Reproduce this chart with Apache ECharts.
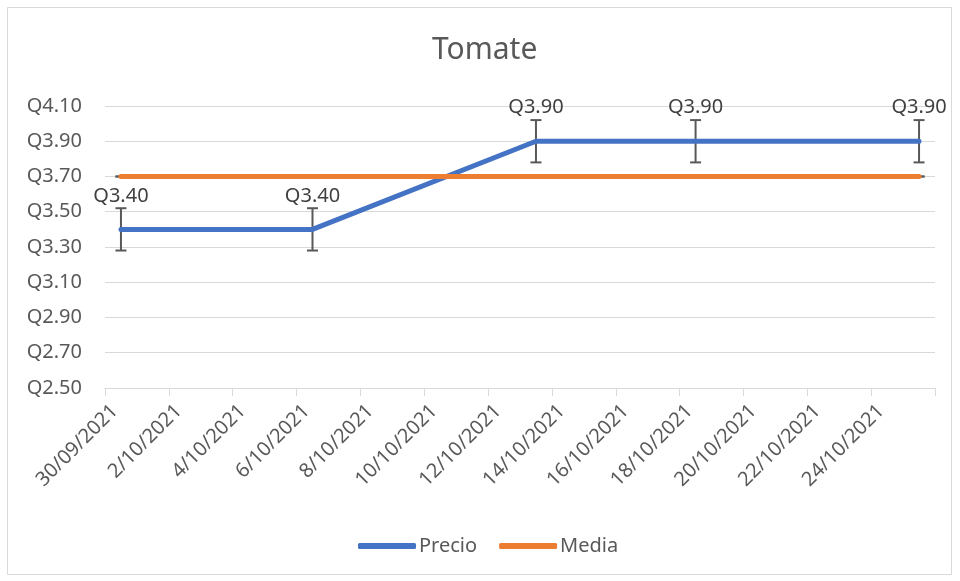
<!DOCTYPE html>
<html>
<head>
<meta charset="utf-8">
<title>Tomate</title>
<script src="https://cdn.jsdelivr.net/npm/echarts@6/dist/echarts.min.js"></script>
<style>
  html, body { margin: 0; padding: 0; background: #ffffff; }
  #chart { width: 960px; height: 581px; }
</style>
</head>
<body>
<div id="chart"></div>
<script>
// Every day shown on the date axis (one category per day)
const days = [
  '30/09/2021', '1/10/2021', '2/10/2021', '3/10/2021', '4/10/2021', '5/10/2021',
  '6/10/2021', '7/10/2021', '8/10/2021', '9/10/2021', '10/10/2021', '11/10/2021',
  '12/10/2021', '13/10/2021', '14/10/2021', '15/10/2021', '16/10/2021', '17/10/2021',
  '18/10/2021', '19/10/2021', '20/10/2021', '21/10/2021', '22/10/2021', '23/10/2021',
  '24/10/2021', '25/10/2021'
];

// Labels under the major ticks (every two days)
const tickLabels = [
  '30/09/2021', '2/10/2021', '4/10/2021', '6/10/2021', '8/10/2021', '10/10/2021',
  '12/10/2021', '14/10/2021', '16/10/2021', '18/10/2021', '20/10/2021', '22/10/2021',
  '24/10/2021'
];

// Observed prices
const precioDates = ['30/09/2021', '6/10/2021', '13/10/2021', '18/10/2021', '25/10/2021'];
const precioValues = [3.40, 3.40, 3.90, 3.90, 3.90];

// Average price line
const mediaDates = ['30/09/2021', '6/10/2021', '13/10/2021', '18/10/2021', '25/10/2021'];
const mediaValues = [3.70, 3.70, 3.70, 3.70, 3.70];

// Error bar half-widths (standard error)
const precioError = 0.12;
const mediaError = 0;

const FONT = '"Noto Sans", "Open Sans", sans-serif';
const BLUE = '#4472C4';
const ORANGE = '#ED7D31';
const GRID = '#d9d9d9';

const pairs = (xs, ys) => xs.map((d, i) => [d, ys[i]]);
const errPairs = (xs, ys, e) => xs.map((d, i) => [d, ys[i], e]);

function renderErrorBar(params, api) {
  const x = api.value(0);
  const y = api.value(1);
  const e = api.value(2);
  const top = api.coord([x, y + e]);
  const bottom = api.coord([x, y - e]);
  const half = 5.5;
  const style = { stroke: '#595959', lineWidth: 2, fill: null };
  return {
    type: 'group',
    children: [
      { type: 'line', shape: { x1: top[0], y1: top[1], x2: bottom[0], y2: bottom[1] }, style },
      { type: 'line', shape: { x1: top[0] - half, y1: top[1], x2: top[0] + half, y2: top[1] }, style },
      { type: 'line', shape: { x1: bottom[0] - half, y1: bottom[1], x2: bottom[0] + half, y2: bottom[1] }, style }
    ]
  };
}

const chart = echarts.init(document.getElementById('chart'), null, { renderer: 'canvas' });

chart.setOption({
  animation: false,
  backgroundColor: '#ffffff',
  textStyle: { fontFamily: FONT },
  graphic: [{
    type: 'rect',
    shape: { x: 7.5, y: 7.5, width: 944, height: 567 },
    style: { fill: null, stroke: GRID, lineWidth: 1 },
    silent: true,
    z: -10
  }],
  title: {
    text: 'Tomate',
    left: 427,
    top: 30,
    textStyle: { fontFamily: FONT, fontSize: 30, fontWeight: 'normal', color: '#595959' }
  },
  legend: {
    data: ['Precio', 'Media'],
    bottom: 20,
    left: 353,
    icon: 'roundRect',
    itemWidth: 58,
    itemHeight: 6,
    itemGap: 22,
    textStyle: { fontFamily: FONT, fontSize: 20, color: '#595959', padding: [0, 0, 0, -2] }
  },
  grid: { left: 105, right: 25, top: 106, bottom: 193, containLabel: false },
  xAxis: [
    {
      type: 'category',
      data: days,
      boundaryGap: true,
      axisLine: { show: false },
      axisTick: { show: false },
      axisLabel: { show: false },
      splitLine: { show: false }
    },
    {
      type: 'value',
      position: 'bottom',
      min: 0,
      max: days.length,
      interval: 2,
      axisLine: { show: true, lineStyle: { color: GRID, width: 1 } },
      axisTick: { show: true, length: 8, lineStyle: { color: GRID, width: 1 } },
      splitLine: { show: false },
      axisLabel: {
        rotate: 45,
        margin: 10,
        fontFamily: FONT,
        fontSize: 20,
        color: '#595959',
        verticalAlign: 'top',
        padding: [4, 0, 0, 0],
        formatter: v => tickLabels[v / 2] || ''
      }
    }
  ],
  yAxis: {
    type: 'value',
    min: 2.5,
    max: 4.1,
    interval: 0.2,
    axisLine: { show: false },
    axisTick: { show: false },
    splitLine: { show: true, lineStyle: { color: GRID, width: 1 } },
    axisLabel: {
      margin: 23,
      fontFamily: FONT,
      fontSize: 20,
      color: '#595959',
      formatter: v => 'Q' + v.toFixed(2)
    }
  },
  series: [
    {
      type: 'custom',
      name: 'errPrecio',
      xAxisIndex: 0,
      renderItem: renderErrorBar,
      data: errPairs(precioDates, precioValues, precioError),
      encode: { x: 0, y: 1 },
      z: 1,
      silent: true
    },
    {
      type: 'custom',
      name: 'errMedia',
      xAxisIndex: 0,
      renderItem: renderErrorBar,
      data: errPairs(mediaDates, mediaValues, mediaError),
      encode: { x: 0, y: 1 },
      z: 1,
      silent: true
    },
    {
      name: 'Precio',
      type: 'line',
      xAxisIndex: 0,
      data: pairs(precioDates, precioValues),
      symbol: 'circle',
      symbolSize: 1,
      itemStyle: { color: BLUE },
      lineStyle: { color: BLUE, width: 5, cap: 'round', join: 'round' },
      label: {
        show: true,
        position: 'top',
        distance: 23,
        fontFamily: FONT,
        fontSize: 20,
        color: '#404040',
        formatter: p => 'Q' + p.value[1].toFixed(2)
      },
      z: 3
    },
    {
      name: 'Media',
      type: 'line',
      xAxisIndex: 0,
      data: pairs(mediaDates, mediaValues),
      symbol: 'none',
      itemStyle: { color: ORANGE },
      lineStyle: { color: ORANGE, width: 5, cap: 'round', join: 'round' },
      z: 4
    }
  ]
});
</script>
</body>
</html>
